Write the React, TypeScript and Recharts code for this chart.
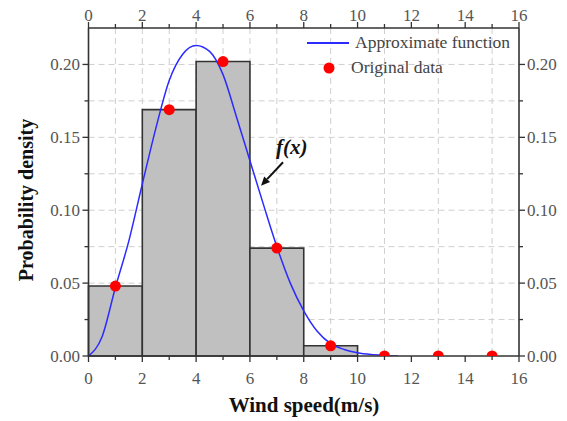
import React from 'react';
import {
  ComposedChart,
  Line,
  Scatter,
  XAxis,
  YAxis,
  CartesianGrid,
  ReferenceArea,
  ReferenceLine,
  ReferenceDot,
  Legend,
} from 'recharts';

// ---------- data ----------
const binStart = [0, 2, 4, 6, 8];
const binEnd = [2, 4, 6, 8, 10];
const binDensity = [0.048, 0.169, 0.202, 0.074, 0.007];

const originalX = [1, 3, 5, 7, 9, 11, 13, 15];
const originalY = [0.048, 0.169, 0.202, 0.074, 0.007, 0, 0, 0];

const curveX = [0, 0.5, 1, 1.5, 2, 2.5, 3, 3.5, 4, 4.5, 5, 5.5, 6, 6.5, 7, 7.5, 8, 8.5, 9, 9.5, 10, 10.5, 11, 11.5];
const curveY = [0, 0.013, 0.047, 0.079, 0.118, 0.156, 0.189, 0.207, 0.213, 0.209, 0.193, 0.164, 0.134, 0.104, 0.075, 0.05, 0.031, 0.017, 0.0085, 0.0045, 0.0022, 0.001, 0.0004, 0];

const xTicks = [0, 1, 2, 3, 4, 5, 6, 7, 8, 9, 10, 11, 12, 13, 14, 15, 16];
const yTicks = [0, 0.025, 0.05, 0.075, 0.1, 0.125, 0.15, 0.175, 0.2];
const gridX = [1, 2, 3, 4, 5, 6, 7, 9, 11, 13, 15];
const gridY = [0.025, 0.05, 0.075, 0.1, 0.125, 0.15, 0.175, 0.2];

const curveName = 'Approximate function';
const dataName = 'Original data';
const xTitle = 'Wind speed(m/s)';
const yTitle = 'Probability density';
const annotationText = 'f(x)';
const annotationPos = { x: 7.55, y: 0.1435 };
const arrowFrom = { x: 7.23, y: 0.1329 };
const arrowTo = { x: 6.41, y: 0.1168 };

const curveData = curveX.map((x, i) => ({ x, y: curveY[i] }));
const pointData = originalX.map((x, i) => ({ x, y: originalY[i] }));

// ---------- styles ----------
const FONT = '"Liberation Serif", "Times New Roman", serif';
const AXIS_COLOR = '#333';
const LABEL_COLOR = '#555';
const TICK_SIZE = 6;
const TICK_MARGIN = 2;

const isMajorX = (v: number) => Math.abs(v / 2 - Math.round(v / 2)) < 1e-6;
const isMajorY = (v: number) => Math.abs(v / 0.05 - Math.round(v / 0.05)) < 1e-6;

function makeTick(side: 'bottom' | 'top' | 'left' | 'right') {
  return (props: any) => {
    const { x, y, payload } = props;
    const v = Number(payload.value);
    const horizontal = side === 'bottom' || side === 'top';
    const major = horizontal ? isMajorX(v) : isMajorY(v);
    const len = major ? 6 : 4;
    const label = horizontal ? String(v) : v.toFixed(2);
    const textProps = { fontFamily: FONT, fontSize: 17, fill: LABEL_COLOR };
    if (side === 'bottom') {
      const ay = y - TICK_SIZE - TICK_MARGIN;
      return (
        <g>
          <line x1={x} x2={x} y1={ay} y2={ay + len} stroke={AXIS_COLOR} strokeWidth={1.3} />
          {major && (
            <text x={x} y={ay + 28} textAnchor="middle" {...textProps}>
              {label}
            </text>
          )}
        </g>
      );
    }
    if (side === 'top') {
      const ay = y + TICK_SIZE + TICK_MARGIN;
      return (
        <g>
          <line x1={x} x2={x} y1={ay} y2={ay - len} stroke={AXIS_COLOR} strokeWidth={1.3} />
          {major && (
            <text x={x} y={ay - 7} textAnchor="middle" {...textProps}>
              {label}
            </text>
          )}
        </g>
      );
    }
    if (side === 'left') {
      const ax = x + TICK_SIZE + TICK_MARGIN;
      return (
        <g>
          <line x1={ax} x2={ax - len} y1={y} y2={y} stroke={AXIS_COLOR} strokeWidth={1.3} />
          {major && (
            <text x={ax - 8.5} y={y + 5.5} textAnchor="end" {...textProps}>
              {label}
            </text>
          )}
        </g>
      );
    }
    const ax = x - TICK_SIZE - TICK_MARGIN;
    return (
      <g>
        <line x1={ax} x2={ax + len} y1={y} y2={y} stroke={AXIS_COLOR} strokeWidth={1.3} />
        {major && (
          <text x={ax + 8} y={y + 5.5} textAnchor="start" {...textProps}>
            {label}
          </text>
        )}
      </g>
    );
  };
}

const LegendContent = () => (
  <div style={{ fontFamily: FONT, fontSize: 17.5, color: '#444' }}>
    <div style={{ display: 'flex', alignItems: 'center', height: 25 }}>
      <svg width={44} height={10} style={{ display: 'block' }}>
        <line x1={0} x2={42} y1={5} y2={5} stroke="#2b2bff" strokeWidth={2} />
      </svg>
      <span style={{ marginLeft: 4 }}>{curveName}</span>
    </div>
    <div style={{ display: 'flex', alignItems: 'center', height: 25 }}>
      <svg width={44} height={12} style={{ display: 'block' }}>
        <circle cx={22} cy={6} r={5.5} fill="#ff0000" />
      </svg>
      <span style={{ marginLeft: 0 }}>{dataName}</span>
    </div>
  </div>
);

const ArrowShape = (props: any) => {
  const { x1, y1, x2, y2 } = props;
  if ([x1, y1, x2, y2].some((v) => typeof v !== 'number' || isNaN(v))) return null;
  const ang = Math.atan2(y2 - y1, x2 - x1);
  const hl = 9;
  const hw = 4;
  const bx = x2 - hl * Math.cos(ang);
  const by = y2 - hl * Math.sin(ang);
  const px = -Math.sin(ang) * hw;
  const py = Math.cos(ang) * hw;
  return (
    <g>
      <line x1={x1} y1={y1} x2={bx} y2={by} stroke="#111" strokeWidth={2} />
      <polygon points={`${x2},${y2} ${bx + px},${by + py} ${bx - px},${by - py}`} fill="#111" />
    </g>
  );
};

const AnnotationShape = (props: any) => {
  const { cx, cy } = props;
  return (
    <text
      x={cx}
      y={cy}
      textAnchor="middle"
      dominantBaseline="central"
      fontFamily={FONT}
      fontSize={21}
      fontStyle="italic"
      fontWeight="bold"
      fill="#111"
    >
      {annotationText}
    </text>
  );
};

export default function App() {
  return (
    <div style={{ position: 'absolute', left: 0, top: 0, width: 567, height: 421, background: '#fff' }}>
      <ComposedChart width={567} height={421} margin={{ top: 0, right: 0, bottom: 0, left: 0 }}>
        <CartesianGrid
          stroke="#cfcfcf"
          strokeDasharray="6 4"
          strokeWidth={1}
          verticalValues={gridX}
          horizontalValues={gridY}
          xAxisId="bottom"
          yAxisId="left"
        />
        <XAxis
          xAxisId="bottom"
          dataKey="x"
          type="number"
          domain={[0, 16]}
          ticks={xTicks}
          interval={0}
          orientation="bottom"
          height={65}
          tickSize={TICK_SIZE}
          tickMargin={TICK_MARGIN}
          tickLine={false}
          axisLine={{ stroke: AXIS_COLOR, strokeWidth: 1.6 }}
          tick={makeTick('bottom')}
          allowDataOverflow
          label={{
            content: () => (
              <text x={304} y={412} textAnchor="middle" fontFamily={FONT} fontSize={21} fontWeight="bold" fill="#111">
                {xTitle}
              </text>
            ),
          }}
        />
        <XAxis
          xAxisId="top"
          dataKey="x"
          type="number"
          domain={[0, 16]}
          ticks={xTicks}
          interval={0}
          orientation="top"
          height={28}
          tickSize={TICK_SIZE}
          tickMargin={TICK_MARGIN}
          tickLine={false}
          axisLine={{ stroke: AXIS_COLOR, strokeWidth: 1.6 }}
          tick={makeTick('top')}
          allowDataOverflow
        />
        <YAxis
          yAxisId="left"
          type="number"
          domain={[0, 0.225]}
          ticks={yTicks}
          interval={0}
          orientation="left"
          width={88.5}
          tickSize={TICK_SIZE}
          tickMargin={TICK_MARGIN}
          tickLine={false}
          axisLine={{ stroke: AXIS_COLOR, strokeWidth: 1.6 }}
          tick={makeTick('left')}
          allowDataOverflow
          label={{
            content: () => (
              <text
                x={0}
                y={0}
                transform="translate(33,200) rotate(-90)"
                textAnchor="middle"
                fontFamily={FONT}
                fontSize={20}
                fontWeight="bold"
                fill="#111"
              >
                {yTitle}
              </text>
            ),
          }}
        />
        <YAxis
          yAxisId="right"
          type="number"
          domain={[0, 0.225]}
          ticks={yTicks}
          interval={0}
          orientation="right"
          width={48}
          tickSize={TICK_SIZE}
          tickMargin={TICK_MARGIN}
          tickLine={false}
          axisLine={{ stroke: AXIS_COLOR, strokeWidth: 1.6 }}
          tick={makeTick('right')}
          allowDataOverflow
        />
        {binStart.map((s, i) => (
          <ReferenceArea
            key={`bin-${i}`}
            xAxisId="bottom"
            yAxisId="left"
            x1={s}
            x2={binEnd[i]}
            y1={0}
            y2={binDensity[i]}
            fill="#c0c0c0"
            fillOpacity={1}
            stroke="#333"
            strokeWidth={1.6}
            ifOverflow="visible"
          />
        ))}
        <Line
          xAxisId="bottom"
          yAxisId="left"
          data={curveData}
          dataKey="y"
          type="monotone"
          stroke="#2b2bff"
          strokeWidth={1.5}
          dot={false}
          activeDot={false}
          isAnimationActive={false}
          name={curveName}
        />
        <Scatter
          xAxisId="bottom"
          yAxisId="left"
          data={pointData}
          dataKey="y"
          fill="#ff0000"
          isAnimationActive={false}
          name={dataName}
          shape={(p: any) => <circle cx={p.cx} cy={p.cy} r={5.5} fill="#ff0000" />}
        />
        <ReferenceLine
          xAxisId="bottom"
          yAxisId="left"
          segment={[arrowFrom, arrowTo]}
          ifOverflow="visible"
          shape={ArrowShape}
        />
        <ReferenceDot
          xAxisId="bottom"
          yAxisId="left"
          x={annotationPos.x}
          y={annotationPos.y}
          r={0}
          ifOverflow="visible"
          shape={AnnotationShape}
        />
        <Legend
          layout="horizontal"
          verticalAlign="middle"
          align="center"
          content={LegendContent}
          wrapperStyle={{ position: 'absolute', left: 307, top: 30, width: 220, height: 50 }}
        />
      </ComposedChart>
    </div>
  );
}
